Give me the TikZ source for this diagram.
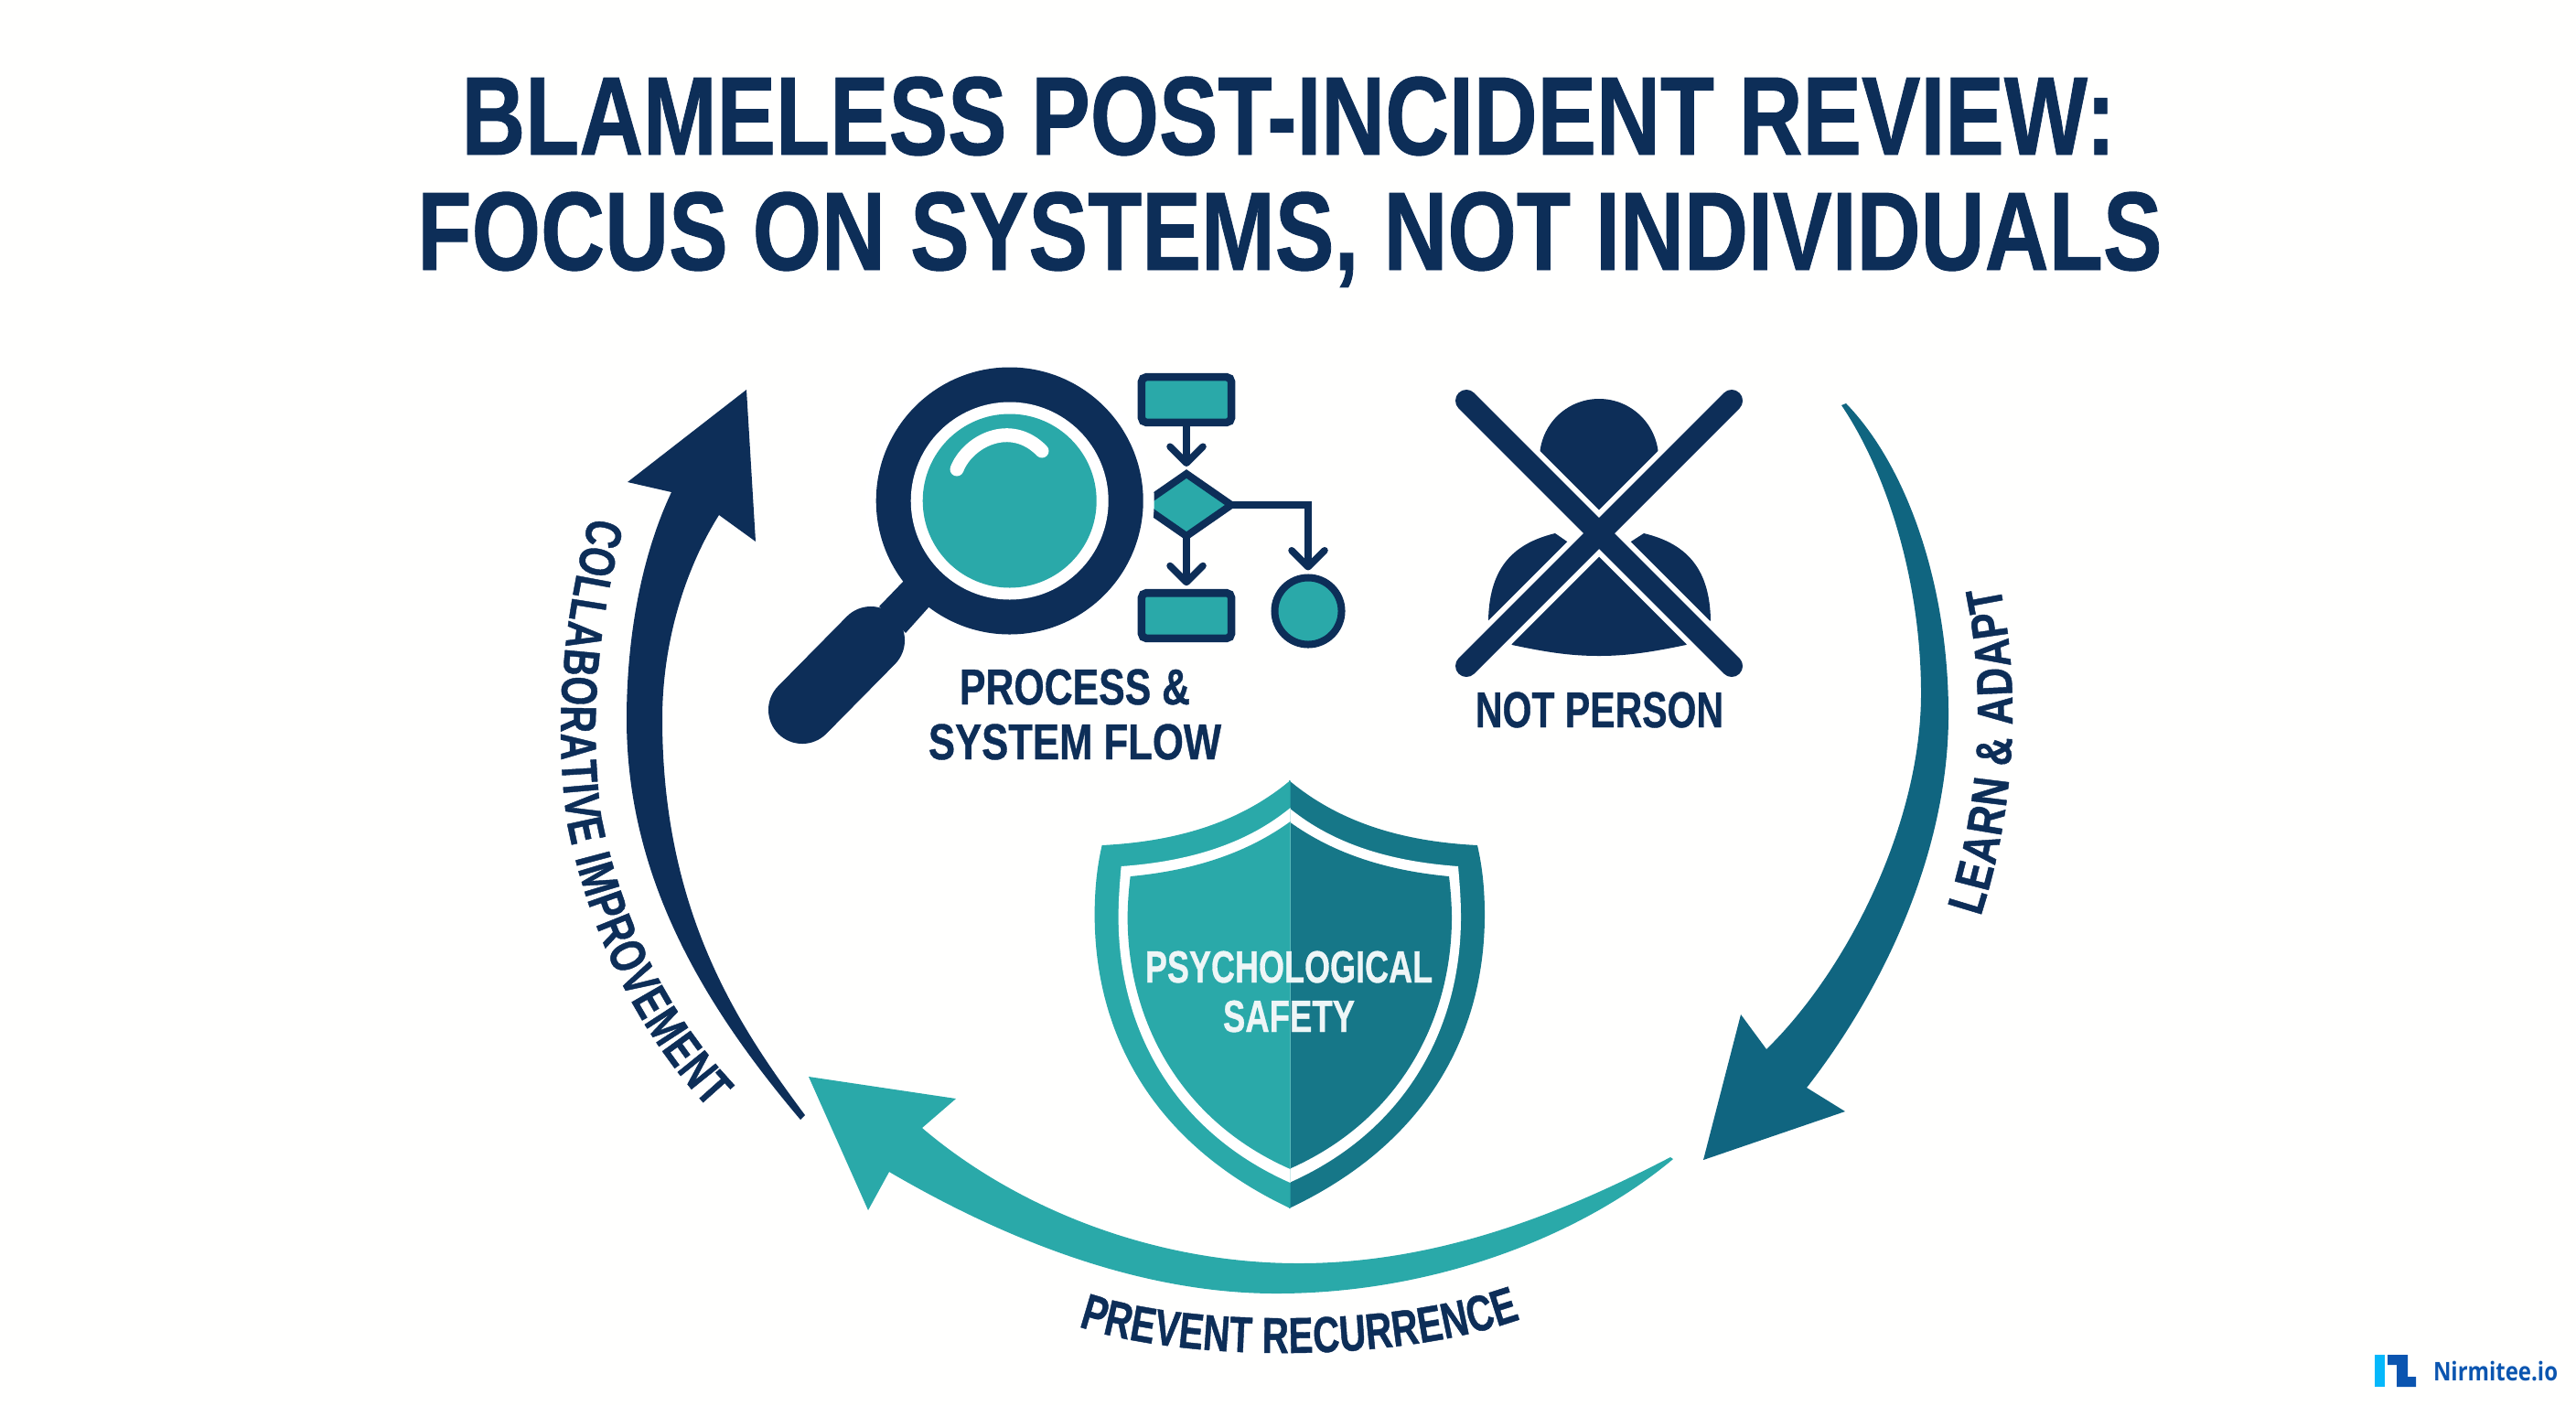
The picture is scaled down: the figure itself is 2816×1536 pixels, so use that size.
\documentclass[tikz,border=0pt]{standalone}
\usepackage{fontspec}
\usepackage{graphicx}
\setmainfont[BoldFeatures={FakeBold=0.8}]{Liberation Sans}
\newfontfamily\curvefontA[FakeStretch=0.74,BoldFeatures={FakeBold=0.8}]{Liberation Sans}
\newfontfamily\curvefontB[FakeStretch=0.78,BoldFeatures={FakeBold=0.8}]{Liberation Sans}
\newfontfamily\curvefontC[FakeStretch=0.73,BoldFeatures={FakeBold=0.8}]{Liberation Sans}
\newfontfamily\logofont{Open Sans}
\usetikzlibrary{arrows.meta,shapes.geometric,decorations.text}
\definecolor{navy}{HTML}{0D2E58}
\definecolor{tealL}{HTML}{2AA9A9}
\definecolor{tealD}{HTML}{167788}
\definecolor{arrowR}{HTML}{106580}
\definecolor{logoL}{HTML}{05B8FB}
\definecolor{logoD}{HTML}{0B55B0}
\definecolor{safewhite}{HTML}{EEF6F7}
\newcommand{\fitw}[2]{\resizebox{#1}{\height}{#2}}
\newcommand{\shieldO}{(1409,853) .. controls (1465,900) and (1535,920) .. (1615,924) .. controls (1621,950) and (1623,975) .. (1623,1000) .. controls (1623,1130) and (1560,1250) .. (1409,1321) -- cycle}
\newcommand{\shieldW}{(1409,883) .. controls (1460,925) and (1525,942) .. (1594,947) .. controls (1596,970) and (1597,985) .. (1597,1003) .. controls (1597,1120) and (1540,1235) .. (1409,1293) -- cycle}
\newcommand{\shieldI}{(1409,898) .. controls (1460,935) and (1520,952) .. (1584,958) .. controls (1586,975) and (1587,990) .. (1587,1003) .. controls (1587,1115) and (1530,1225) .. (1409,1278) -- cycle}
\tikzset{
  x=0.01cm,y=-0.01cm,
  label text/.style={inner sep=0pt,outer sep=0pt,anchor=base,text=navy,font=\bfseries\fontsize{15.7pt}{16pt}\selectfont},
  title text/.style={inner sep=0pt,outer sep=0pt,anchor=base,text=navy,font=\bfseries\fontsize{34.7pt}{36pt}\selectfont},
  safe text/.style={inner sep=0pt,outer sep=0pt,anchor=base,text=safewhite,font=\bfseries\fontsize{14pt}{15pt}\selectfont},
  flowbox/.style={draw=navy,fill=tealL,line width=0.085cm,rounded corners=0.05cm,minimum width=0.98cm,minimum height=0.495cm,inner sep=0pt,outer sep=0pt},
  flowdia/.style={diamond,draw=navy,fill=tealL,line width=0.08cm,minimum width=0.98cm,minimum height=0.68cm,inner sep=0pt,outer sep=0pt},
  flowcirc/.style={circle,draw=navy,fill=tealL,line width=0.08cm,minimum size=0.73cm,inner sep=0pt,outer sep=0pt},
  flowline/.style={draw=navy,line width=0.075cm,-{Straight Barb[length=0.18cm,width=0.36cm,line width=0.075cm,round]},shorten >=0.08cm},
  curvelabel/.style 2 args={decorate,decoration={text along path,text align={fit to path},text={|#1\bfseries\fontsize{15.7pt}{16pt}\selectfont\color{navy}|#2}}},
}
\begin{document}
\begin{tikzpicture}
\useasboundingbox (0,0) rectangle (2816,1536);
\fill[white!99.5!yellow] (0,0) rectangle (2816,1536);

% title
\node[title text] (title1) at (1408.5,169) {\fitw{18.07cm}{BLAMELESS POST-INCIDENT REVIEW:}};
\node[title text] (title2) at (1410,295) {\fitw{19.06cm}{FOCUS ON SYSTEMS, NOT INDIVIDUALS}};

% flowchart
\node[flowbox] (ftop) at (1297,437) {};
\node[flowdia] (fdia) at (1297,552) {};
\node[flowbox] (fbot) at (1297,673) {};
\node[flowcirc] (fcirc) at (1430,668) {};
\draw[flowline] (ftop.south) -- (fdia.north);
\draw[flowline] (fdia.south) -- (fbot.north);
\draw[flowline] (fdia.east) -| (fcirc.north);

% magnifier
\fill[white] (1103.7,547.5) circle[radius=158];
\fill[navy] (988,635) -- (1016,663) -- (990,692) -- (961,663) -- cycle;
\draw[navy,line width=0.74cm,line cap=round] (877,776) -- (952,700);
\fill[navy] (1103.7,547.5) circle[radius=146];
\fill[white] (1103.7,547.5) circle[radius=108];
\fill[tealL] (1103.7,547.5) circle[radius=95];
\draw[white,line width=0.15cm,line cap=round] (1046,513) .. controls (1058,482) and (1105,458) .. (1139,493);

\node[label text] (proc1) at (1175,770) {\fitw{2.52cm}{PROCESS \&}};
\node[label text] (proc2) at (1175,830) {\fitw{3.2cm}{SYSTEM FLOW}};

% person
\fill[navy] (1748,501) circle[radius=65];
\fill[navy] (1627,678) .. controls (1628,625) and (1650,595) .. (1700,583) -- (1713,592) -- (1783,592) -- (1797,583)
  .. controls (1847,595) and (1869,625) .. (1870,678) -- (1843,705)
  .. controls (1800,714) and (1775,717) .. (1748,717) .. controls (1720,717) and (1695,714) .. (1653,705) -- cycle;
\draw[white,line width=0.36cm] (1603,438) -- (1893,728) (1893,438) -- (1603,728);
\draw[navy,line width=0.24cm,line cap=round] (1603,438) -- (1893,728) (1893,438) -- (1603,728);
\node[label text] (notp) at (1748.5,795) {\fitw{2.71cm}{NOT PERSON}};

% shield
\fill[tealD] \shieldO;
\fill[white] \shieldW;
\fill[tealD] \shieldI;
\begin{scope}[xshift=28.18cm,xscale=-1]
\fill[tealL] \shieldO;
\fill[white] \shieldW;
\fill[tealL] \shieldI;
\end{scope}
\node[safe text] (safe1) at (1409,1074) {\fitw{3.14cm}{PSYCHOLOGICAL}};
\node[safe text] (safe2) at (1409,1128) {\fitw{1.44cm}{SAFETY}};

% left arrow
\fill[navy] (734,538) .. controls (700,610) and (685,700) .. (685,786)
  .. controls (685,960) and (770,1100) .. (875,1224) -- (880,1219)
  .. controls (810,1125) and (724,1000) .. (724,786)
  .. controls (724,700) and (750,620) .. (786,563)
  -- (826,592) -- (816,426) -- (686,527) -- cycle;
% right arrow
\fill[arrowR] (2018,441) .. controls (2085,510) and (2130,640) .. (2130,781)
  .. controls (2130,930) and (2060,1080) .. (1975,1189)
  -- (2017,1215) -- (1862,1268) -- (1903,1109) -- (1931,1147)
  .. controls (2020,1060) and (2100,900) .. (2100,758)
  .. controls (2100,640) and (2065,520) .. (2013,443) -- cycle;
% bottom arrow
\fill[tealL] (1008,1233) .. controls (1110,1320) and (1260,1381) .. (1420,1381)
  .. controls (1580,1381) and (1720,1320) .. (1826,1265) -- (1829,1267)
  .. controls (1730,1350) and (1570,1414) .. (1395,1414)
  .. controls (1240,1414) and (1090,1350) .. (972,1281)
  -- (949,1323) -- (884,1177) -- (1045,1201) -- cycle;

% curved labels
\path[curvelabel={\curvefontA}{COLLABORATIVE IMPROVEMENT}] (645,565) .. controls (615,680) and (605,790) .. (620,900) .. controls (646,1030) and (703,1135) .. (775,1212);
\path[curvelabel={\curvefontB}{LEARN {\&} ADAPT}] (2165,1002) .. controls (2198,900) and (2213,770) .. (2186,640);
\path[curvelabel={\curvefontC}{PREVENT RECURRENCE}] (1179,1450) .. controls (1290,1488) and (1520,1492) .. (1662,1442);

% logo
\fill[logoL] (2596,1481) rectangle (2607,1516);
\fill[logoD] (2610,1481) -- (2632,1481) -- (2632,1505) -- (2641,1505) -- (2641,1516) -- (2620,1516) -- (2620,1492) -- (2610,1492) -- cycle;
\node[inner sep=0pt,outer sep=0pt,anchor=base,text=logoD,font=\logofont\bfseries\fontsize{8pt}{9pt}\selectfont] (logo) at (2728,1509) {\fitw{1.36cm}{Nirmitee.io}};
\end{tikzpicture}
\end{document}
